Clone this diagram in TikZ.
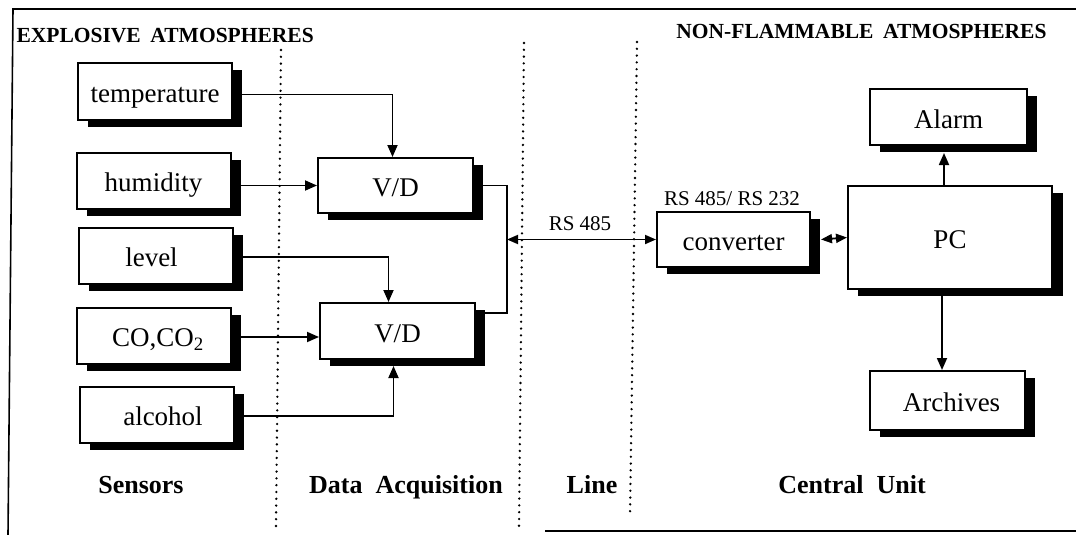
\documentclass[tikz,border=0pt]{standalone}
\usepackage{fontspec}
\setmainfont{Liberation Serif}
\usetikzlibrary{arrows.meta,shadows}
\tikzset{
 sbox/.style={draw, line width=2pt, fill=white, inner sep=0pt,
   minimum width=154pt, minimum height=56pt,
   font=\fontsize{27}{32}\selectfont, text height=24pt, text depth=2pt,
   drop shadow={shadow xshift=10pt, shadow yshift=-7pt, opacity=1, fill=black}},
 arr/.style={line width=1.8pt, -{Triangle[length=12pt,width=10pt]}},
 darr/.style={line width=1.8pt, {Triangle[length=11pt,width=9pt]}-{Triangle[length=11pt,width=9pt]}},
 wire/.style={line width=1.8pt},
 sep/.style={line width=2.6pt, line cap=round, dash pattern=on 0pt off 6.8pt},
 lab/.style={font=\bfseries\fontsize{26}{30}\selectfont, anchor=base},
 ttl/.style={font=\bfseries\fontsize{21.5}{25}\selectfont},
 rs/.style={font=\fontsize{21}{24}\selectfont, anchor=base}
}
\begin{document}
\begin{tikzpicture}[x=1pt,y=-1pt]
\useasboundingbox (0,0) rectangle (1076,535);
% frame
\draw[line width=1.6pt] (1076,9) -- (13,9) -- (8,535);
\draw[line width=1.6pt] (545,531) -- (1076,531);
% separators
\draw[sep] (281,50) -- (276,526);
\draw[sep] (524,43) -- (519,526);
\draw[sep] (637,42) -- (630,515);
% titles
\node[ttl, anchor=base west] (t1) at (13,43) {EXPLOSIVE\hspace{0.45em}ATMOSPHERES};
\node[ttl, anchor=base east] (t2) at (1050,39) {NON-FLAMMABLE\hspace{0.45em}ATMOSPHERES};
% sensors
\node[sbox] (temp) at (155,91.5) {temperature};
\node[sbox] (hum) at (153.5,180.5) {humidity};
\node[sbox] (lev) at (155.5,255.5) {\hspace{-8pt}level};
\node[sbox] (co) at (154,335.5) {\hspace{8pt}CO,CO\textsubscript{2}};
\node[sbox] (alc) at (157,414.5) {\hspace{12pt}alcohol};
% data acquisition
\node[sbox, minimum width=155pt, minimum height=55pt] (vd1) at (395.5,185.5) {V/D};
\node[sbox, minimum width=155pt] (vd2) at (397.5,331) {V/D};
% central unit
\node[sbox, minimum width=153pt, minimum height=55pt] (conv) at (733.5,239.5) {converter};
\node[sbox, minimum width=204pt, minimum height=103pt,
  drop shadow={shadow xshift=11pt, shadow yshift=-7pt, opacity=1, fill=black}] (pc) at (950,237.5) {PC};
\node[sbox, minimum width=157pt] (alarm) at (948.5,117) {Alarm};
\node[sbox, minimum width=155pt, minimum height=59pt] (arch) at (947.5,400.5) {\hspace{8pt}Archives};
% labels
\node[rs] (rsl) at (580,230) {RS 485};
\node[rs] (rsc) at (732,205) {RS 485/ RS 232};
\node[lab] (l1) at (141,493) {Sensors};
\node[lab] (l2) at (406,493) {Data\hspace{0.5em}Acquisition};
\node[lab] (l3) at (592,493) {Line};
\node[lab] (l4) at (852,493) {Central\hspace{0.5em}Unit};
% connectors
\coordinate (cot) at ([yshift=-6pt]vd2.west);
\draw[arr] ([yshift=-3pt]temp.east) -| ([xshift=-3pt]vd1.north);
\draw[arr] (hum.east |- vd1.west) -- (vd1.west);
\draw[arr] ([yshift=-1.5pt]lev.east) -| ([xshift=-9pt]vd2.north);
\draw[arr] (co.east |- cot) -- (cot);
\draw[arr] ([yshift=-1.5pt]alc.east) -| ([xshift=-4pt,yshift=-6pt]vd2.south);
\coordinate (bt) at (507,185.5);
\coordinate (bm) at (507,239.5);
\coordinate (bb) at (507,313);
\draw[wire] (vd1.east) -- (bt) -- (bb) -- (vd2.east |- bb);
\draw[darr] (bm) -- (conv.west);
\draw[darr] ([xshift=10pt]conv.east) -- (pc.west);
\draw[arr] ([xshift=-6pt]pc.north) -- ([xshift=-4.5pt,yshift=-7pt]alarm.south);
\draw[arr] ([xshift=-8pt]pc.south) -- ([xshift=-5.5pt]arch.north);
\end{tikzpicture}
\end{document}
